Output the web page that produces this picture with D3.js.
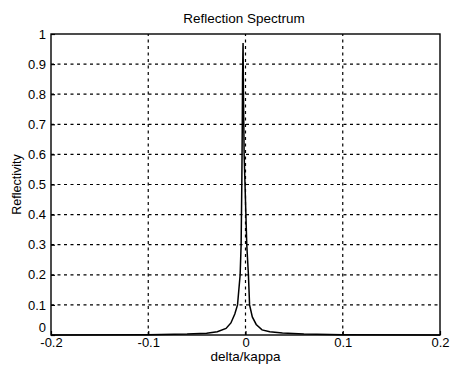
<!DOCTYPE html>
<html lang="en">

<head>
  <meta charset="UTF-8">
  <script src="https://d3js.org/d3.v7.min.js"></script>
  <title>Reflection Spectrum</title>
  <style>
    body { margin: 0; background: #fff; }
    text { font-family: "Liberation Sans", Arial, sans-serif; fill: #000; }
  </style>
</head>

<body>
  <div id="container"></div>
  <script type="text/javascript">
    // values
    const deltaKappa = [-0.2, -0.1, -0.06, -0.04, -0.029, -0.02, -0.015, -0.011, -0.0082, -0.0055, -0.0045,
      -0.0038, -0.0033, -0.003, -0.0027, -0.0025, -0.0021, -0.0014, -0.0005, 0.0013, 0.003, 0.0042,
      0.007, 0.011, 0.017, 0.025, 0.038, 0.06, 0.1, 0.2]
    const reflectivity = [0, 0.001, 0.003, 0.006, 0.011, 0.022, 0.04, 0.07, 0.1, 0.2, 0.3,
      0.5, 0.7, 0.86, 0.93, 0.97, 0.8, 0.6, 0.5, 0.3, 0.2, 0.1,
      0.06, 0.035, 0.017, 0.011, 0.007, 0.003, 0.001, 0]
    const xTicks = [-0.2, -0.1, 0, 0.1, 0.2]
    const yTicks = [0, 0.1, 0.2, 0.3, 0.4, 0.5, 0.6, 0.7, 0.8, 0.9, 1]

    const w = 454
    const h = 374
    const margin = { top: 34, bottom: 39, left: 51, right: 14 }

    const svg = d3.select("#container")
      .append("svg")
      .attr("width", w)
      .attr("height", h)
      .style("display", "block");

    const x = d3.scaleLinear()
      .domain([-0.2, 0.2])
      .range([margin.left, w - margin.right]);

    const y = d3.scaleLinear()
      .domain([0, 1])
      .range([h - margin.bottom, margin.top]);

    // dotted grid
    svg.append("g")
      .selectAll("line")
      .data(xTicks.slice(1, -1))
      .enter()
      .append("line")
      .attr("x1", (d) => x(d))
      .attr("x2", (d) => x(d))
      .attr("y1", y(0))
      .attr("y2", y(1))
      .attr("stroke", "#000")
      .attr("stroke-width", 1.2)
      .attr("stroke-dasharray", "3,3.5");

    svg.append("g")
      .selectAll("line")
      .data(yTicks.slice(1, -1))
      .enter()
      .append("line")
      .attr("x1", x(-0.2))
      .attr("x2", x(0.2))
      .attr("y1", (d) => y(d))
      .attr("y2", (d) => y(d))
      .attr("stroke", "#000")
      .attr("stroke-width", 1.2)
      .attr("stroke-dasharray", "3,3.5");

    // axes, ticks pointing inwards like matlab
    const fmt = (d) => d === 0 ? "0" : String(d)

    const xAxis = svg.append("g")
      .attr("transform", "translate(0," + y(0) + ")")
      .call(d3.axisBottom(x).tickValues(xTicks).tickSize(-4).tickPadding(3).tickFormat(fmt));

    const yAxis = svg.append("g")
      .attr("transform", "translate(" + x(-0.2) + ",0)")
      .call(d3.axisLeft(y).tickValues(yTicks).tickSize(-4).tickPadding(5).tickFormat(fmt));

    [xAxis, yAxis].forEach((g) => {
      g.select(".domain").remove();
      g.selectAll("line").attr("stroke", "#000").attr("stroke-width", 1.2);
      g.selectAll("text").style("font-size", "13px").attr("font-family", null);
    });
    // the y "0" sits just above the x "-0.2", as in the original
    yAxis.selectAll("text").filter((d) => d === 0).attr("dy", "-0.25em");

    // frame
    svg.append("rect")
      .attr("x", x(-0.2))
      .attr("y", y(1))
      .attr("width", x(0.2) - x(-0.2))
      .attr("height", y(0) - y(1))
      .attr("fill", "none")
      .attr("stroke", "#000")
      .attr("stroke-width", 1.4);

    // the spectrum
    const line = d3.line()
      .x((d, i) => x(deltaKappa[i]))
      .y((d) => y(d));

    svg.append("path")
      .datum(reflectivity)
      .attr("d", line)
      .attr("fill", "none")
      .attr("stroke", "#000")
      .attr("stroke-width", 1.5);

    // labels
    svg.append("text")
      .attr("x", 244)
      .attr("y", 23)
      .attr("text-anchor", "middle")
      .style("font-size", "13.5px")
      .text("Reflection Spectrum");

    svg.append("text")
      .attr("x", (x(-0.2) + x(0.2)) / 2)
      .attr("y", 361)
      .attr("text-anchor", "middle")
      .style("font-size", "13.5px")
      .text("delta/kappa");

    svg.append("text")
      .attr("transform", "translate(21," + y(0.5) + ") rotate(-90)")
      .attr("text-anchor", "middle")
      .style("font-size", "12.5px")
      .text("Reflectivity");
  </script>
</body>

</html>
